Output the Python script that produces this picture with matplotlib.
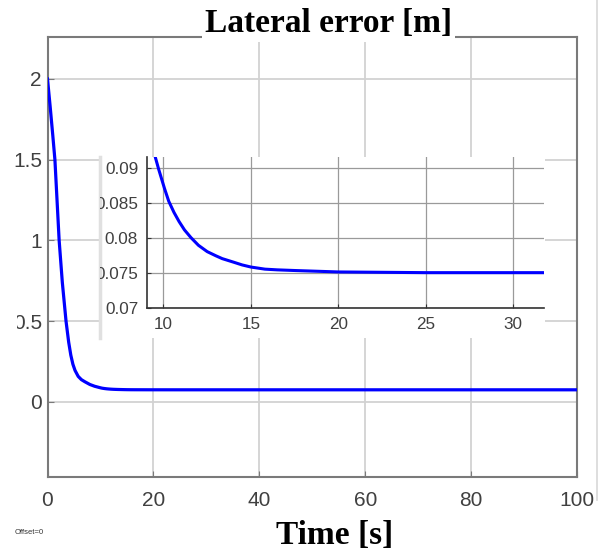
import matplotlib
matplotlib.use("Agg")
import matplotlib.pyplot as plt
from matplotlib.lines import Line2D
from matplotlib.patches import Rectangle

# ---- data ----
time_s = [0, 0.5, 1.0, 1.4, 1.8, 2.2, 2.8, 3.5, 4.0, 4.4, 4.8, 5.2, 5.8, 6.4,
          7.05, 8.0, 8.9, 9.43, 9.72, 10.06, 10.3, 10.6, 10.89, 11.2, 11.57,
          12.0, 12.5, 13.0, 13.36, 14.0, 14.5, 15.0, 15.8, 16.5, 17.56, 20,
          25, 100]
lat_err = [2.0, 1.83, 1.65, 1.5, 1.25, 1.0, 0.74, 0.5, 0.37, 0.29, 0.233,
           0.195, 0.158, 0.138, 0.125, 0.108, 0.097, 0.0924, 0.0898, 0.0870,
           0.0852, 0.0836, 0.0823, 0.0811, 0.0800, 0.0789, 0.0780, 0.0774,
           0.0770, 0.0765, 0.0761, 0.0758, 0.0755, 0.0754, 0.0753, 0.0751,
           0.0750, 0.0750]

main_xticks = [0, 20, 40, 60, 80, 100]
main_xlabels = ["0", "20", "40", "60", "80", "100"]
main_yticks = [0, 0.5, 1, 1.5, 2]
main_ylabels = ["0", "0.5", "1", "1.5", "2"]
zoom_xticks = [10, 15, 20, 25, 30]
zoom_xlabels = ["10", "15", "20", "25", "30"]
zoom_yticks = [0.07, 0.075, 0.08, 0.085, 0.09]
zoom_ylabels = ["0.07", "0.075", "0.08", "0.085", "0.09"]

title_text = "Lateral error [m]"
xlabel_text = "Time [s]"
offset_text = "Offset=0"

W, H = 603, 553
fig = plt.figure(figsize=(W / 100, H / 100), dpi=100, facecolor="white")

def fx(px):
    return px / W

def fy(py):
    return 1 - py / H

tick_color = "#404040"
line_color = "#0000ff"

# ---- main axes ----
ax = fig.add_axes([fx(47.5), fy(477), fx(577) - fx(47.5), fy(37) - fy(477)])
ax.plot(time_s, lat_err, color=line_color, lw=2.3, zorder=3)
ax.set_xlim(0, 100)
ax.set_ylim(-0.465, 2.26)
ax.set_xticks(main_xticks)
ax.set_xticklabels(main_xlabels)
ax.set_yticks(main_yticks)
ax.set_yticklabels(main_ylabels)
ax.grid(True, color="#d2d2d2", lw=1.3)
ax.set_axisbelow(True)
for s in ax.spines.values():
    s.set_color("#7a7a7a")
    s.set_linewidth(1.5)
ax.tick_params(direction="in", length=4, color="#7a7a7a", labelsize=15,
               labelcolor=tick_color, pad=4)
ax.tick_params(axis="x", pad=10)
for lab in ax.get_xticklabels() + ax.get_yticklabels():
    lab.set_fontfamily("Liberation Sans")

# ---- white panel behind the inset ----
panel = fig.add_axes([fx(100), fy(338), fx(545) - fx(100), fy(157) - fy(338)])
panel.set_facecolor("white")
panel.set_xticks([])
panel.set_yticks([])
for k, s in panel.spines.items():
    s.set_visible(k == "left")
    s.set_color("#e0e0e0")
    s.set_linewidth(2.5)

# ---- inset axes ----
axi = fig.add_axes([fx(146.5), fy(307.7), fx(544) - fx(146.5), fy(157) - fy(307.7)])
axi.set_facecolor("white")
axi.plot(time_s, lat_err, color=line_color, lw=2.2, zorder=3)
axi.set_xlim(9.03, 31.75)
axi.set_ylim(0.07, 0.0915)
axi.set_xticks(zoom_xticks)
axi.set_xticklabels(zoom_xlabels)
axi.set_yticks(zoom_yticks)
axi.set_yticklabels(zoom_ylabels)
axi.grid(True, color="#9a9a9a", lw=0.9)
axi.set_axisbelow(True)
axi.spines["top"].set_visible(False)
axi.spines["right"].set_visible(False)
for k in ("left", "bottom"):
    axi.spines[k].set_color("#333333")
    axi.spines[k].set_linewidth(1.2)
axi.tick_params(direction="in", length=3, color="#333333", labelsize=12.3,
                labelcolor=tick_color, pad=6)
axi.tick_params(axis="x", pad=7)
for lab in axi.get_xticklabels() + axi.get_yticklabels():
    lab.set_fontfamily("Liberation Sans")
    lab.set_clip_path(panel.patch)

# white strip at the far left edge of the screenshot
fig.add_artist(Rectangle((0, fy(338)), fx(17), fy(305) - fy(338),
                         transform=fig.transFigure, facecolor="white",
                         edgecolor="none", zorder=10))

# ---- texts ----
fig.text(fx(328.5), fy(32), title_text, fontfamily="Liberation Serif",
         fontweight="bold", fontsize=24, ha="center", va="baseline",
         bbox=dict(facecolor="white", edgecolor="none", pad=2))
fig.text(fx(335), fy(535), xlabel_text, fontfamily="Liberation Serif",
         fontweight="bold", fontsize=24, ha="center", va="center")
fig.text(fx(15), fy(533), offset_text, fontfamily="Liberation Sans",
         fontsize=5.5, color="#333333", ha="left", va="center")

# right border line of the screenshot
fig.add_artist(Line2D([fx(597), fx(597)], [fy(0), fy(500)], color="#d8d8d8",
                      lw=1.2, transform=fig.transFigure))

fig.savefig("out.png", dpi=100, facecolor="white")
